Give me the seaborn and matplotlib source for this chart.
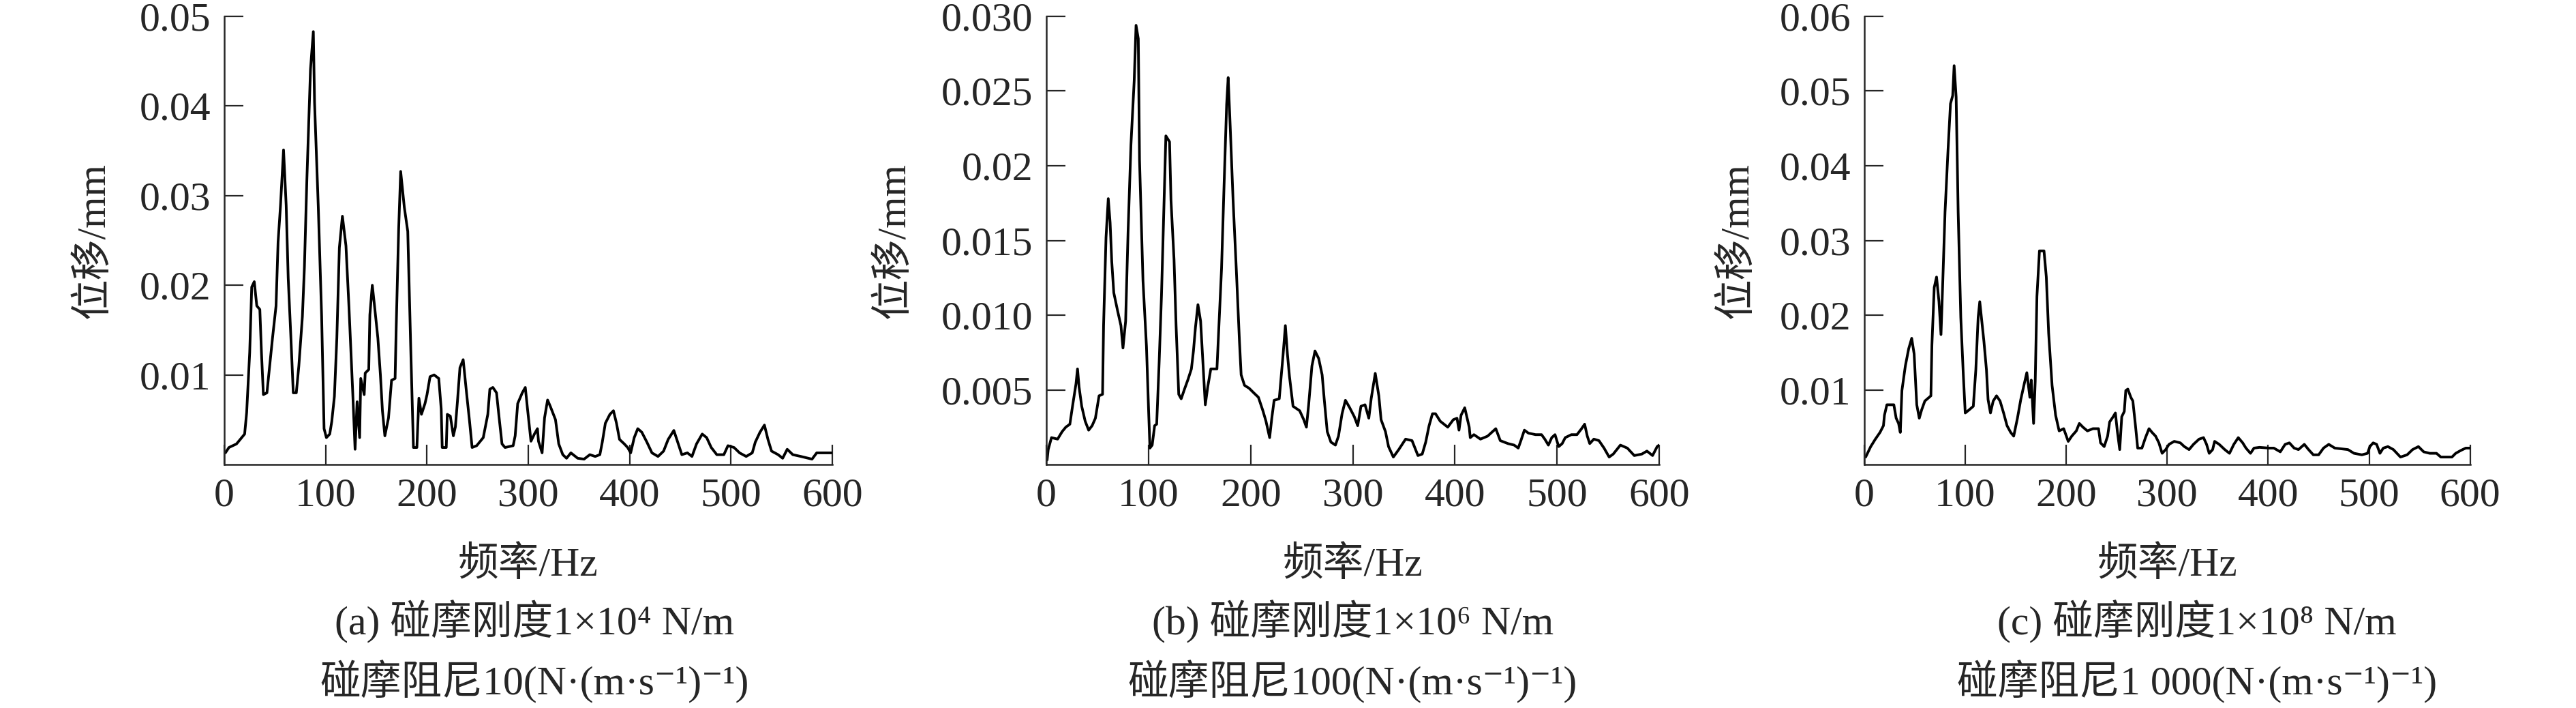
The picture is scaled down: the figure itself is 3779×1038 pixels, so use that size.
"""
Frequency spectra of rotor displacement for three rub-impact settings.
"""
import matplotlib
matplotlib.use("Agg")
import matplotlib.pyplot as plt
import seaborn as sns

# (a) rub stiffness 1e4 N/m, damping 10
freq_a = [1, 4.5, 12, 20, 22, 25, 27, 29.5, 32, 35, 36.6, 38.5, 42, 44, 47.5, 51, 53, 55.4, 58.4, 61,
          63, 65.6, 68, 71, 73.5, 77, 79, 81.4, 85, 87.8, 89, 92.7, 96, 98.4, 100.7, 104, 106, 108.6,
          111, 113.5, 116.5, 120, 123, 126.7, 129, 131, 133.5, 134.6, 138, 139, 142.5, 143.6, 146, 148,
          151.5, 154, 156, 158.4, 162, 165, 168.5, 169.6, 172, 174, 177.6, 181, 184, 186.6, 190, 192,
          194.5, 198, 200, 203, 207, 211.6, 214, 215, 219, 220, 223, 226, 228, 230, 232.5, 235.7, 239,
          242, 244.5, 249, 255.5, 260, 262, 265, 268.6, 271, 274, 277, 285, 287, 289.5, 294, 297, 299,
          302.6, 306, 309, 310, 313.6, 316, 319, 322, 326.8, 330, 334, 337.7, 342, 348.7, 355, 360.7,
          366, 370.6, 373, 376, 380.5, 384, 387, 390, 394.7, 398, 401, 404.5, 408, 412, 417, 422, 428,
          433.5, 438, 443.6, 448, 451.5, 457, 461.5, 466, 471.6, 476, 480.5, 486, 493, 497, 503, 508.5,
          515, 521, 524, 528.6, 533, 536.5, 540, 546.5, 551, 555.5, 561, 569, 580, 584.6, 591, 599]
disp_a = [0.0013, 0.0019, 0.0023, 0.0034, 0.0058, 0.0125, 0.0198, 0.0204, 0.0177, 0.0173, 0.0125,
          0.0078, 0.008, 0.0102, 0.0141, 0.0177, 0.0248, 0.0289, 0.0351, 0.0289, 0.0208, 0.0143, 0.008,
          0.008, 0.011, 0.0165, 0.022, 0.0317, 0.0441, 0.0483, 0.0404, 0.0287, 0.0165, 0.004, 0.003,
          0.0034, 0.0048, 0.0076, 0.0141, 0.0242, 0.0277, 0.0244, 0.0175, 0.008, 0.0017, 0.007, 0.003,
          0.0096, 0.0078, 0.0102, 0.0106, 0.0167, 0.02, 0.0179, 0.0141, 0.01, 0.006, 0.0032, 0.0052,
          0.0094, 0.0096, 0.0153, 0.0262, 0.0327, 0.0287, 0.026, 0.0127, 0.0019, 0.0019, 0.0074, 0.0056,
          0.0068, 0.0078, 0.0098, 0.01, 0.0096, 0.0062, 0.0019, 0.0019, 0.0056, 0.0054, 0.0032, 0.0042,
          0.007, 0.0108, 0.0117, 0.008, 0.0048, 0.0019, 0.0021, 0.003, 0.0056, 0.0084, 0.0086, 0.008,
          0.0054, 0.0023, 0.0019, 0.0021, 0.0032, 0.0068, 0.008, 0.0086, 0.0064, 0.0026, 0.0034, 0.004,
          0.0026, 0.0013, 0.0052, 0.0072, 0.0064, 0.005, 0.0023, 0.0011, 0.0007, 0.0013, 0.0007, 0.0006,
          0.0011, 0.0009, 0.0011, 0.0025, 0.0046, 0.0056, 0.006, 0.0046, 0.0028, 0.0023, 0.0019, 0.0013,
          0.003, 0.004, 0.0036, 0.0025, 0.0013, 0.0009, 0.0015, 0.0028, 0.0038, 0.0023, 0.0011, 0.0013,
          0.0009, 0.0023, 0.0034, 0.003, 0.0019, 0.0011, 0.0011, 0.0021, 0.0019, 0.0013, 0.0009, 0.0013,
          0.0025, 0.0036, 0.0044, 0.0028, 0.0015, 0.0011, 0.0007, 0.0017, 0.0011, 0.0009, 0.0006, 0.0013,
          0.0013, 0.0013]

# (b) rub stiffness 1e6 N/m, damping 100
freq_b = [0.7, 1.8, 5, 11, 15.4, 19, 23, 25.6, 29, 30.5, 32, 34.6, 38, 41.4, 44.8, 48, 51.6, 55, 56,
          58.4, 60.6, 62.4, 64, 66, 69.7, 73, 75, 77.6, 80, 82.8, 86, 87.8, 90, 91.2, 94.6, 98, 100.2,
          101.4, 103.6, 106, 108, 110.4, 112.7, 115, 117, 120.6, 122, 125, 127, 129.6, 132, 135, 138.7,
          142, 144, 146, 148.4, 151, 153, 155.6, 158, 161, 167, 169, 171.5, 173.8, 176.5, 178, 180, 182.8,
          186, 189, 190.7, 194, 198.6, 203, 207.6, 212, 215, 218.6, 220.7, 223, 228, 231.7, 234, 236, 238,
          241.5, 248, 252, 254.6, 256.8, 260, 263, 266.6, 270, 272, 275, 278.6, 283, 286, 289.5, 292.8,
          297, 301.5, 304.8, 308, 312, 315.7, 318, 322, 325.5, 327.7, 332, 335, 339.7, 345, 351.7, 358,
          363.8, 368, 371.4, 374.7, 378, 381, 385.6, 393, 398.4, 402, 404, 406, 409.6, 412, 414, 415,
          418.6, 425, 432, 440, 444.4, 452, 458, 462, 464.6, 468, 472, 479, 484.8, 488, 491.5, 494.8, 498,
          501.6, 505, 508, 514, 519.5, 524, 527, 529.6, 532, 536, 541, 546, 551, 555, 562, 568.8, 575.6,
          583, 588, 593.5, 598, 600]
disp_b = [0.0003, 0.001, 0.0018, 0.0017, 0.0022, 0.0025, 0.0027, 0.0039, 0.0054, 0.0064, 0.0052,
          0.0039, 0.0029, 0.0023, 0.0026, 0.0031, 0.0046, 0.0047, 0.0093, 0.0152, 0.0178, 0.0162, 0.0136,
          0.0115, 0.0103, 0.0093, 0.0078, 0.0096, 0.0156, 0.0214, 0.0257, 0.0294, 0.0285, 0.0204, 0.0123,
          0.0079, 0.0034, 0.0011, 0.0013, 0.0026, 0.0027, 0.0068, 0.0113, 0.017, 0.022, 0.0216, 0.0177,
          0.0137, 0.0093, 0.0047, 0.0044, 0.005, 0.0057, 0.0064, 0.0076, 0.0092, 0.0107, 0.0096, 0.0072,
          0.004, 0.0052, 0.0064, 0.0064, 0.0094, 0.0131, 0.0183, 0.0241, 0.0259, 0.0226, 0.0177, 0.013,
          0.0083, 0.006, 0.0053, 0.0051, 0.0048, 0.0045, 0.0036, 0.0029, 0.0018, 0.0031, 0.0043, 0.0044,
          0.0073, 0.0093, 0.0074, 0.0059, 0.0039, 0.0036, 0.003, 0.0025, 0.004, 0.0066, 0.0076, 0.0071,
          0.006, 0.0044, 0.0022, 0.0015, 0.0013, 0.0019, 0.0034, 0.0043, 0.0038, 0.0032, 0.0026, 0.0039,
          0.004, 0.0031, 0.0044, 0.0061, 0.0046, 0.003, 0.0022, 0.0012, 0.0005, 0.001, 0.0017, 0.0016,
          0.0006, 0.0007, 0.0015, 0.0026, 0.0034, 0.0034, 0.0029, 0.0025, 0.003, 0.0031, 0.0023, 0.0033,
          0.0038, 0.0031, 0.0025, 0.0018, 0.002, 0.0017, 0.0019, 0.0024, 0.0016, 0.0014, 0.0013, 0.0011,
          0.0016, 0.0023, 0.0021, 0.002, 0.002, 0.0017, 0.0013, 0.0018, 0.002, 0.0012, 0.0014, 0.0018,
          0.002, 0.002, 0.0024, 0.0027, 0.0019, 0.0014, 0.0017, 0.0016, 0.0011, 0.0005, 0.0007, 0.0013,
          0.0011, 0.0006, 0.0007, 0.0009, 0.0006, 0.0012, 0.0013]

# (c) rub stiffness 1e8 N/m, damping 1000
freq_c = [1.4, 6.4, 11, 15.6, 19, 20, 22.4, 29.3, 31.6, 34, 35.7, 37.3, 40.7, 44, 47, 49.4, 51, 52,
          54.5, 56.8, 60, 66, 67, 69.3, 71.6, 74, 76, 77.8, 80, 83, 85.4, 87.6, 89, 91, 93, 95.6, 98,
          100, 103.7, 108, 110.5, 112.8, 114.4, 116, 118.5, 121, 122.6, 125, 127.7, 131, 134.5, 138,
          141.4, 145, 148, 151.7, 155, 158.6, 161, 164, 165.4, 167.7, 169.3, 171, 173.5, 178, 180.3,
          182.6, 186, 189.5, 193, 197.5, 202, 205.5, 210, 213, 216.6, 221, 226.5, 232, 234, 237.6, 241,
          243, 246.5, 248.7, 250.6, 253, 255, 257.5, 259, 261, 264, 266, 268.6, 270.8, 275, 278.5, 282,
          285, 288.5, 291.8, 295, 298.5, 301.8, 307, 313, 317, 321.7, 326, 331.6, 336, 339, 341.6, 345,
          347, 351.5, 357, 361.7, 366, 370.4, 374.8, 378, 382.5, 386, 391.4, 401, 405.6, 412, 416.8, 421,
          425.7, 430, 435.8, 440, 444.7, 450, 454.8, 460, 466, 472.7, 479, 485, 492.8, 498.4, 500.7, 504,
          507.4, 510.7, 514, 518.6, 524, 531, 537.6, 543, 548.8, 554, 560, 566.7, 571, 582, 585.7, 591,
          595.7, 600]
disp_c = [0.001, 0.0024, 0.0034, 0.0043, 0.0052, 0.0066, 0.008, 0.008, 0.0062, 0.0055, 0.0043, 0.0099,
          0.0132, 0.0155, 0.0169, 0.0148, 0.0106, 0.008, 0.0062, 0.0073, 0.0085, 0.0092, 0.016, 0.0237,
          0.0251, 0.0218, 0.0174, 0.0246, 0.0338, 0.0422, 0.0483, 0.0494, 0.0534, 0.0492, 0.0338, 0.0197,
          0.0123, 0.0069, 0.0073, 0.0078, 0.0127, 0.0197, 0.0218, 0.0197, 0.0165, 0.0127, 0.0087, 0.0069,
          0.0085, 0.0092, 0.0085, 0.0069, 0.0052, 0.0043, 0.0038, 0.0062, 0.0087, 0.0109, 0.0123, 0.009,
          0.0113, 0.0055, 0.0111, 0.0225, 0.0286, 0.0286, 0.0251, 0.0176, 0.0106, 0.0066, 0.0045, 0.0048,
          0.0031, 0.0038, 0.0045, 0.0055, 0.005, 0.0045, 0.0048, 0.0048, 0.0029, 0.0024, 0.0038, 0.0057,
          0.0064, 0.0069, 0.0045, 0.002, 0.0064, 0.0071, 0.0099, 0.0101, 0.009, 0.0085, 0.0052, 0.0022,
          0.0022, 0.0036, 0.0048, 0.0043, 0.0038, 0.0029, 0.0015, 0.002, 0.0027, 0.0031, 0.0029, 0.0024,
          0.002, 0.0027, 0.0034, 0.0036, 0.0027, 0.0015, 0.002, 0.0031, 0.0027, 0.002, 0.0015, 0.0027,
          0.0036, 0.0029, 0.0022, 0.0015, 0.0022, 0.0023, 0.0022, 0.0022, 0.0017, 0.0027, 0.0029, 0.0022,
          0.002, 0.0027, 0.002, 0.0013, 0.0013, 0.0022, 0.0027, 0.0022, 0.0021, 0.002, 0.0015, 0.0013,
          0.0015, 0.0024, 0.0029, 0.0027, 0.0015, 0.0022, 0.0024, 0.002, 0.001, 0.0013, 0.002, 0.0024,
          0.0017, 0.0015, 0.0015, 0.001, 0.001, 0.0015, 0.0019, 0.0022, 0.0022]

x_ticks = [0, 100, 200, 300, 400, 500, 600]
y_ticks_a = [0.01, 0.02, 0.03, 0.04, 0.05]
y_labels_a = ["0.01", "0.02", "0.03", "0.04", "0.05"]
y_ticks_b = [0.005, 0.010, 0.015, 0.020, 0.025, 0.030]
y_labels_b = ["0.005", "0.010", "0.015", "0.02", "0.025", "0.030"]
y_ticks_c = [0.01, 0.02, 0.03, 0.04, 0.05, 0.06]
y_labels_c = ["0.01", "0.02", "0.03", "0.04", "0.05", "0.06"]
y_max = [0.05, 0.030, 0.06]

x_label = "频率/Hz"
y_label = "位移/mm"
captions = [
    ("(a) 碰摩刚度1×10⁴ N/m", "碰摩阻尼10(N·(m·s⁻¹)⁻¹)"),
    ("(b) 碰摩刚度1×10⁶ N/m", "碰摩阻尼100(N·(m·s⁻¹)⁻¹)"),
    ("(c) 碰摩刚度1×10⁸ N/m", "碰摩阻尼1 000(N·(m·s⁻¹)⁻¹)"),
]


def main():
    """
    Main method.
    """
    sns.set_style("ticks")
    plt.rcParams["font.family"] = ["Liberation Serif", "Noto Sans CJK SC", "DejaVu Serif"]
    plt.rcParams["axes.linewidth"] = 1.8
    fs = 43

    fig = plt.figure(figsize=(37.79, 10.38), dpi=100)

    # axes boxes in figure fractions
    boxes = [[0.0871, 0.3439, 0.2360, 0.633],
             [0.4062, 0.3439, 0.2379, 0.633],
             [0.7237, 0.3439, 0.2352, 0.633]]
    ylabel_x = [-0.215, -0.248, -0.21]
    caption_x = [0.2075, 0.5251, 0.8529]

    panels = [(freq_a, disp_a, y_ticks_a, y_labels_a),
              (freq_b, disp_b, y_ticks_b, y_labels_b),
              (freq_c, disp_c, y_ticks_c, y_labels_c)]

    for i, (freq, disp, yt, yl) in enumerate(panels):
        ax = fig.add_axes(boxes[i])
        sns.lineplot(x=freq, y=disp, ax=ax, color="black", linewidth=2.8, estimator=None)
        ax.set_xlim(0, 600)
        ax.set_ylim(0, y_max[i])
        ax.set_xticks(x_ticks)
        ax.set_xticklabels([str(t) for t in x_ticks])
        ax.set_yticks(yt)
        ax.set_yticklabels(yl)
        ax.tick_params(axis="x", direction="in", length=21, width=1.6, pad=14, labelsize=fs)
        ax.tick_params(axis="y", direction="in", length=20, width=1.6, pad=14, labelsize=fs)
        sns.despine(ax=ax)

        ax.set_xlabel(x_label, fontsize=fs, va="center", ha="center")
        ax.xaxis.set_label_coords(0.5, -0.225)
        ax.set_ylabel(y_label, fontsize=fs, va="center", ha="center")
        ax.yaxis.set_label_coords(ylabel_x[i], 0.5)

        fig.text(caption_x[i], 0.1214, captions[i][0], fontsize=fs, ha="center", va="center")
        fig.text(caption_x[i], 0.0366, captions[i][1], fontsize=fs, ha="center", va="center")

    plt.savefig("out.png", dpi=100)


if __name__ == "__main__":
    main()
